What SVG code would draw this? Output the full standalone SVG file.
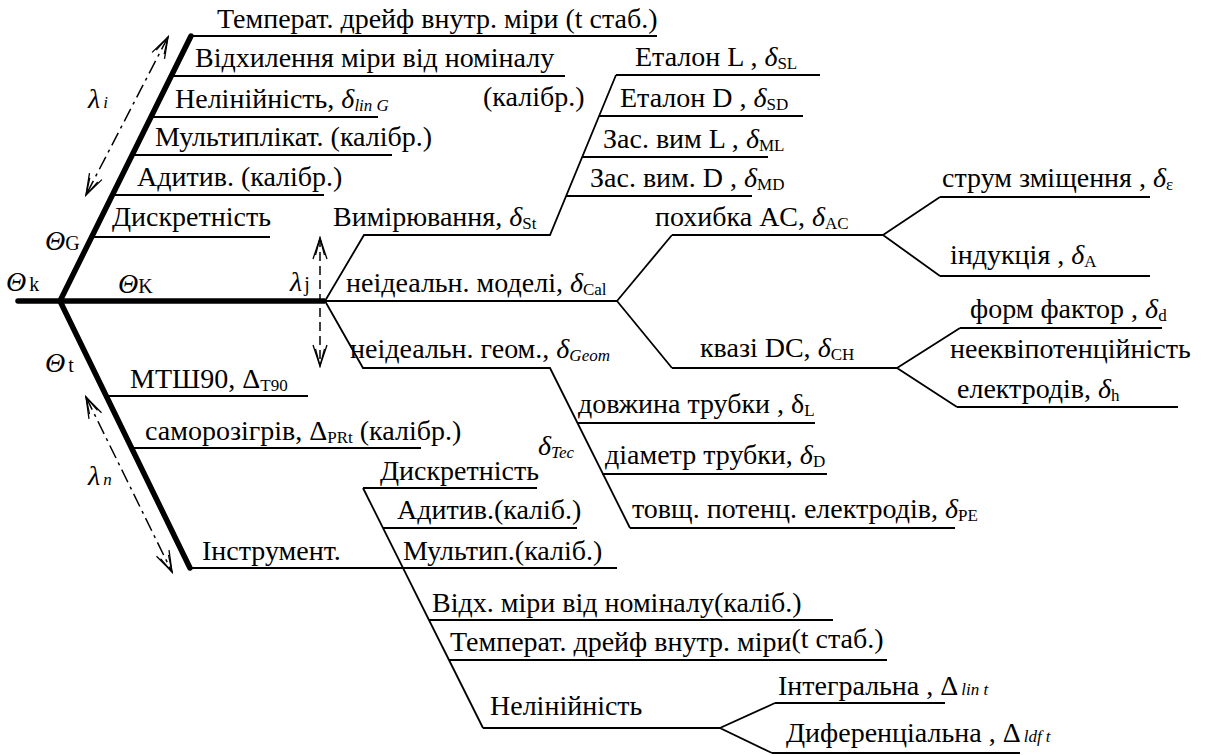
<svg xmlns="http://www.w3.org/2000/svg" width="1210" height="756" viewBox="0 0 1210 756">
<style>
text { font-family: 'Liberation Serif', serif; font-size: 28px; fill: #000; }
.s { font-size: 17px; }
.g { font-size: 20px; }
.i { font-style: italic; }
.thin { stroke: #000; stroke-width: 1.8; fill: none; }
.thick { stroke: #000; stroke-width: 5.5; fill: none; stroke-linecap: round; }
.spine { stroke: #000; stroke-width: 5.5; fill: none; }
.head { stroke: #000; stroke-width: 1.3; fill: none; }
.dd { stroke: #000; stroke-width: 1.5; fill: none; stroke-dasharray: 14 5 3 5; }
.dj { stroke: #000; stroke-width: 1.5; fill: none; stroke-dasharray: 9 5; }
</style>
<rect width="1210" height="756" fill="#fff"/>

<g id="connectors">
<line class="thick" x1="18" y1="301" x2="60" y2="301" stroke-width="8"/>
<line class="spine" x1="60" y1="301" x2="325" y2="301"/>
<line class="thick" x1="60" y1="301" x2="191" y2="36"/>
<line class="thick" x1="60" y1="301" x2="190" y2="568"/>
<polyline class="thin" points="325,301 364,235 550,235 616,75"/>
<polyline class="thin" points="617,301 672,235"/>
<polyline class="thin" points="325,301 363,368 550,368 630,528"/>
<polyline class="thin" points="617,301 672,368"/>
<polyline class="thin" points="940,197 883,235 940,276"/>
<polyline class="thin" points="960,328 897,368 957,407"/>
<polyline class="thin" points="363,488 483,728"/>
<polyline class="thin" points="775,703 720,728 772,753"/>
<line class="dd" x1="168" y1="37" x2="86" y2="195"/>
<polyline class="head" points="164.5,58.9 168,37 152.1,52.4"/>
<polyline class="head" points="164.2,54.2 168,37 156.2,50"/>
<polyline class="head" points="101.9,179.6 86,195 89.5,173.1"/>
<polyline class="head" points="97.8,182 86,195 89.8,177.8"/>
<line class="dd" x1="86" y1="397" x2="172" y2="572"/>
<polyline class="head" points="101.5,412.8 86,397 89,418.9"/>
<polyline class="head" points="97.5,410.3 86,397 89.5,414.2"/>
<polyline class="head" points="169,550.1 172,572 156.5,556.2"/>
<polyline class="head" points="168.5,554.8 172,572 160.5,558.7"/>
<line class="dj" x1="320" y1="238" x2="320" y2="366"/>
<polyline class="head" points="313,259 320,238 327,259"/>
<polyline class="head" points="315.5,255 320,238 324.5,255"/>
<polyline class="head" points="313,345 320,366 327,345"/>
<polyline class="head" points="315.5,349 320,366 324.5,349"/>
</g>

<g id="labels">
<text x="6" y="291"><tspan class="i">Θ</tspan><tspan class="g" dx="3">k</tspan></text>
<text x="118" y="293"><tspan class="i">Θ</tspan><tspan class="g">K</tspan></text>
<text x="45" y="250"><tspan class="i">Θ</tspan><tspan class="g">G</tspan></text>
<text x="45" y="372"><tspan class="i">Θ</tspan><tspan class="g" dx="3">t</tspan></text>
<text x="88" y="108" class="i">λ<tspan class="s" dx="3">i</tspan></text>
<text x="88" y="485" class="i">λ<tspan class="s" dx="3">n</tspan></text>
<text x="290" y="291"><tspan class="i">λ</tspan><tspan class="g" dx="2">j</tspan></text>
<text x="538" y="455" class="i">δ<tspan class="s" dy="3">Tec</tspan></text>
</g>

<g id="n-temp-drift">
<line class="thin" x1="191" y1="36" x2="657" y2="36"/>
<text x="217" y="28">Температ. дрейф внутр. міри (t стаб.)</text>
</g>
<g id="n-deviation">
<line class="thin" x1="171" y1="76" x2="565" y2="76"/>
<text x="195" y="67">Відхилення міри від номіналу</text>
<text x="483" y="106">(калібр.)</text>
</g>
<g id="n-nonlin-g">
<line class="thin" x1="151" y1="117" x2="378" y2="117"/>
<text x="175" y="108">Нелінійність, <tspan class="i">δ</tspan><tspan class="s i" dy="3">lin G</tspan></text>
</g>
<g id="n-mult-g">
<line class="thin" x1="132" y1="155" x2="392" y2="155"/>
<text x="155" y="146">Мультиплікат. (калібр.)</text>
</g>
<g id="n-add-g">
<line class="thin" x1="112" y1="195" x2="324" y2="195"/>
<text x="137" y="186">Адитив. (калібр.)</text>
</g>
<g id="n-discr-g">
<line class="thin" x1="92" y1="237" x2="270" y2="237"/>
<text x="112" y="226">Дискретність</text>
</g>

<g id="n-mtsh90">
<line class="thin" x1="106" y1="396" x2="308" y2="396"/>
<text x="130" y="388">МТШ90, Δ<tspan class="s" dy="3">T90</tspan></text>
</g>
<g id="n-selfheat">
<line class="thin" x1="132" y1="448" x2="421" y2="448"/>
<text x="145" y="440">саморозігрів, Δ<tspan class="s" dy="3">PRt</tspan><tspan dy="-3"> (калібр.)</tspan></text>
</g>
<g id="n-instrument">
<line class="thin" x1="190" y1="568" x2="617" y2="568"/>
<text x="202" y="560">Інструмент.</text>
<text x="403" y="560">Мультип.(каліб.)</text>
</g>
<g id="n-discr-t">
<line class="thin" x1="363" y1="488" x2="537" y2="488"/>
<text x="380" y="480">Дискретність</text>
</g>
<g id="n-add-t">
<line class="thin" x1="383" y1="528" x2="577" y2="528"/>
<text x="397" y="519">Адитив.(каліб.)</text>
</g>
<g id="n-dev-t">
<line class="thin" x1="429" y1="620" x2="833" y2="620"/>
<text x="432" y="612">Відх. міри від номіналу(каліб.)</text>
</g>
<g id="n-drift-t">
<line class="thin" x1="449" y1="660" x2="887" y2="660"/>
<text x="450" y="651">Температ. дрейф внутр. міри<tspan dy="-3">(t стаб.)</tspan></text>
</g>
<g id="n-nonlin-t">
<line class="thin" x1="483" y1="728" x2="720" y2="728"/>
<text x="490" y="715">Нелінійність</text>
</g>
<g id="n-integral">
<line class="thin" x1="775" y1="703" x2="945" y2="703"/>
<text x="778" y="695">Інтегральна , Δ<tspan class="s i" dx="3">lin t</tspan></text>
</g>
<g id="n-diff">
<line class="thin" x1="772" y1="753" x2="1020" y2="753"/>
<text x="786" y="742">Диференціальна , Δ<tspan class="s i" dx="3">ldf t</tspan></text>
</g>

<g id="n-measure">
<text x="333" y="226">Вимірювання, <tspan class="i">δ</tspan><tspan class="s" dy="3">St</tspan></text>
</g>
<g id="n-etalon-l">
<line class="thin" x1="616" y1="75" x2="820" y2="75"/>
<text x="635" y="66">Еталон L , <tspan class="i">δ</tspan><tspan class="s" dy="3">SL</tspan></text>
</g>
<g id="n-etalon-d">
<line class="thin" x1="599" y1="116" x2="803" y2="116"/>
<text x="620" y="107">Еталон D , <tspan class="i">δ</tspan><tspan class="s" dy="3">SD</tspan></text>
</g>
<g id="n-zas-l">
<line class="thin" x1="582" y1="157" x2="768" y2="157"/>
<text x="603" y="148">Зас. вим L , <tspan class="i">δ</tspan><tspan class="s" dy="3">ML</tspan></text>
</g>
<g id="n-zas-d">
<line class="thin" x1="566" y1="196" x2="752" y2="196"/>
<text x="590" y="187">Зас. вим. D , <tspan class="i">δ</tspan><tspan class="s" dy="3">MD</tspan></text>
</g>

<g id="n-model">
<line class="thin" x1="325" y1="301" x2="617" y2="301"/>
<text x="346" y="292">неідеальн. моделі, <tspan class="i">δ</tspan><tspan class="s" dy="3">Cal</tspan></text>
</g>
<g id="n-ac">
<line class="thin" x1="672" y1="235" x2="883" y2="235"/>
<text x="655" y="226">похибка AC, <tspan class="i">δ</tspan><tspan class="s" dy="3">AC</tspan></text>
</g>
<g id="n-disp">
<line class="thin" x1="940" y1="197" x2="1150" y2="197"/>
<text x="942" y="187">струм зміщення , <tspan class="i">δ</tspan><tspan class="s" dy="3">ε</tspan></text>
</g>
<g id="n-induct">
<line class="thin" x1="940" y1="276" x2="1150" y2="276"/>
<text x="950" y="264">індукція , <tspan class="i">δ</tspan><tspan class="s" dy="3">A</tspan></text>
</g>
<g id="n-dc">
<line class="thin" x1="672" y1="368" x2="897" y2="368"/>
<text x="700" y="357">квазі DC, <tspan class="i">δ</tspan><tspan class="s" dy="3">CH</tspan></text>
</g>
<g id="n-form">
<line class="thin" x1="960" y1="328" x2="1162" y2="328"/>
<text x="970" y="318">форм фактор , <tspan class="i">δ</tspan><tspan class="s" dy="3">d</tspan></text>
</g>
<g id="n-equip">
<line class="thin" x1="957" y1="407" x2="1178" y2="407"/>
<text x="950" y="358">нееквіпотенційність</text>
<text x="957" y="398">електродів, <tspan class="i">δ</tspan><tspan class="s" dy="3">h</tspan></text>
</g>
<g id="n-geom">
<line class="thin" x1="363" y1="368" x2="550" y2="368"/>
<text x="350" y="358">неідеальн. геом., <tspan class="i">δ</tspan><tspan class="s i" dy="3">Geom</tspan></text>
</g>
<g id="n-length">
<line class="thin" x1="577" y1="423" x2="815" y2="423"/>
<text x="578" y="413">довжина трубки , δ<tspan class="s" dy="3">L</tspan></text>
</g>
<g id="n-diam">
<line class="thin" x1="602" y1="474" x2="827" y2="474"/>
<text x="605" y="464">діаметр трубки, <tspan class="i">δ</tspan><tspan class="s" dy="3">D</tspan></text>
</g>
<g id="n-thick">
<line class="thin" x1="630" y1="528" x2="955" y2="528"/>
<text x="632" y="518">товщ. потенц. електродів, <tspan class="i">δ</tspan><tspan class="s" dy="3">PE</tspan></text>
</g>
</svg>
